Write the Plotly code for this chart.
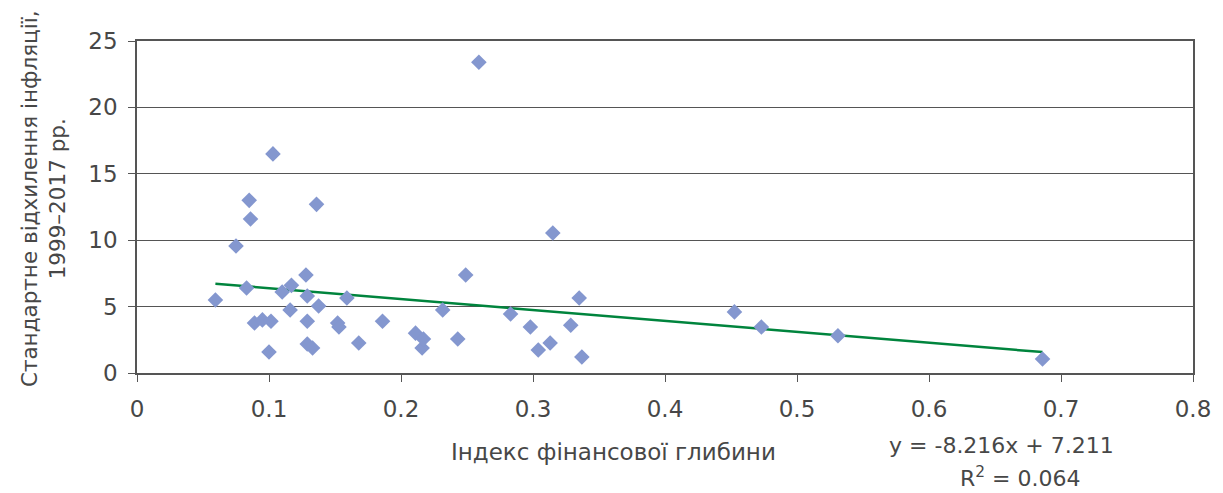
import plotly.graph_objects as go

x_vals = [0.0594, 0.075, 0.083, 0.085, 0.086, 0.089, 0.095, 0.100, 0.1015, 0.103,
          0.110, 0.116, 0.117, 0.128, 0.129, 0.129, 0.129, 0.133, 0.136, 0.1376,
          0.152, 0.153, 0.159, 0.168, 0.186, 0.211, 0.216, 0.217, 0.2316, 0.243,
          0.249, 0.259, 0.283, 0.298, 0.304, 0.313, 0.315, 0.3286, 0.335, 0.337,
          0.4526, 0.473, 0.531, 0.686]
y_vals = [5.5, 9.56, 6.4, 13.0, 11.6, 3.77, 4.0, 1.58, 3.9, 16.5,
          6.1, 4.74, 6.6, 7.38, 5.8, 3.9, 2.18, 1.88, 12.7, 5.05,
          3.77, 3.46, 5.65, 2.26, 3.9, 3.0, 1.88, 2.56, 4.74, 2.56,
          7.38, 23.4, 4.44, 3.46, 1.73, 2.26, 10.54, 3.6, 5.65, 1.2,
          4.6, 3.46, 2.8, 1.05]

slope = -8.216
intercept = 7.211
trend_x = [min(x_vals), max(x_vals)]
trend_y = [slope * v + intercept for v in trend_x]

x_ticks = [0, 0.1, 0.2, 0.3, 0.4, 0.5, 0.6, 0.7, 0.8]
x_tick_text = ["0", "0.1", "0.2", "0.3", "0.4", "0.5", "0.6", "0.7", "0.8"]
y_ticks = [0, 5, 10, 15, 20, 25]

FONT = "DejaVu Sans"
TXT = "#474747"
FS = 23

fig = go.Figure()
fig.add_trace(go.Scatter(x=trend_x, y=trend_y, mode="lines",
                         line=dict(color="#00843D", width=2.5), hoverinfo="skip"))
fig.add_trace(go.Scatter(x=x_vals, y=y_vals, mode="markers",
                         marker=dict(symbol="diamond", size=12, color="#8497CF")))

fig.update_layout(
    width=1223, height=493,
    margin=dict(l=137, r=22, t=41, b=120),
    paper_bgcolor="white", plot_bgcolor="white",
    showlegend=False,
    font=dict(family=FONT, size=FS, color=TXT),
    xaxis=dict(range=[0, 0.8], tickvals=x_ticks, ticktext=x_tick_text,
               showgrid=False, zeroline=False, showline=True, linecolor="#555555",
               linewidth=1.5, mirror=True, ticks="outside", ticklen=7,
               ticklabelstandoff=8,
               tickcolor="#555555", tickfont=dict(size=FS, color=TXT)),
    yaxis=dict(range=[0, 25], tickvals=y_ticks, showgrid=True, gridcolor="#555555",
               gridwidth=1.2, zeroline=False, showline=True, linecolor="#555555",
               linewidth=1.5, mirror=True, ticks="outside", ticklen=7,
               ticklabelstandoff=6,
               tickcolor="#555555", tickfont=dict(size=FS, color=TXT)),
    annotations=[
        dict(text="Індекс фінансової глибини", xref="paper", yref="paper",
             x=0.451, y=-0.238, showarrow=False, xanchor="center", yanchor="middle",
             font=dict(size=FS, color=TXT)),
        dict(text="y = -8.216x + 7.211", xref="paper", yref="paper",
             x=0.819, y=-0.217, showarrow=False, xanchor="center", yanchor="middle",
             font=dict(size=22, color=TXT)),
        dict(text="R<sup>2</sup> = 0.064", xref="paper", yref="paper",
             x=0.837, y=-0.313, showarrow=False, xanchor="center", yanchor="middle",
             font=dict(size=22, color=TXT)),
        dict(text="Стандартне відхилення інфляції,<br>1999–2017 pp.", xref="paper",
             yref="paper", x=-0.0883, y=0.526, showarrow=False, textangle=-90,
             xanchor="center", yanchor="middle", align="center",
             font=dict(size=21.5, color=TXT)),
    ],
)

fig.write_html("out.html")
